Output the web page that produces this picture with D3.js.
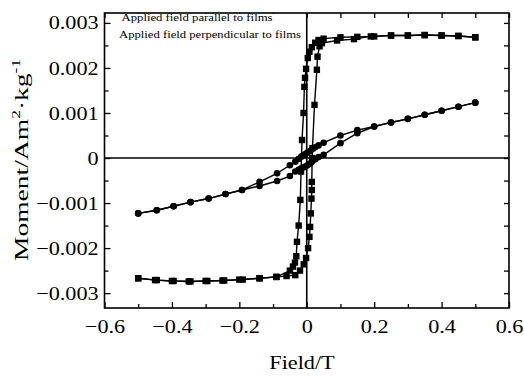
<!DOCTYPE html>
<html>
<head>
<meta charset="utf-8">
<script src="https://cdn.jsdelivr.net/npm/d3@7"></script>
<style>
    body { margin: 0; background: #fff; }
    svg { display: block; }
    text { font-family: "Liberation Serif", "Times New Roman", serif; fill: #000; }
    .axis path { display: none; }
    .axis line { stroke: #000; stroke-width: 1.3; }
</style>
</head>
<body>
<svg id="chart" width="524" height="376"></svg>
<script>

// parallel field (squares), descending then ascending branch
let parDownH = [0.5, 0.45, 0.4, 0.35, 0.3, 0.25, 0.2, 0.15, 0.1, 0.05, 0.035, 0.025, 0.015, 0.008, 0.003, -0.002, -0.005, -0.007, -0.0095, -0.014, -0.017, -0.019, -0.024, -0.029, -0.031, -0.035, -0.041, -0.05, -0.09, -0.14, -0.19, -0.245, -0.295, -0.345, -0.395, -0.445, -0.5];
let parDownM = [0.00268, 0.00271, 0.00272, 0.00273, 0.00272, 0.00272, 0.0027, 0.00269, 0.00268, 0.00265, 0.00262, 0.00256, 0.00246, 0.00236, 0.00222, 0.00198, 0.00178, 0.00158, 0.001, 0.0004, -0.0003, -0.00093, -0.0015, -0.00186, -0.00218, -0.00232, -0.00241, -0.0025, -0.00264, -0.00267, -0.0027, -0.00272, -0.00273, -0.00274, -0.00273, -0.00271, -0.00267];
let parUpH = [-0.5, -0.45, -0.4, -0.35, -0.3, -0.25, -0.2, -0.14, -0.09, -0.06, -0.034, -0.02, -0.009, -0.002, 0.004, 0.008, 0.01, 0.012, 0.014, 0.015, 0.015, 0.016, 0.017, 0.023, 0.03, 0.032, 0.038, 0.045, 0.09, 0.14, 0.19, 0.25, 0.3, 0.35, 0.4, 0.45, 0.5];
let parUpM = [-0.00267, -0.00271, -0.00273, -0.00274, -0.00273, -0.00272, -0.0027, -0.00267, -0.00264, -0.00262, -0.0026, -0.0025, -0.00236, -0.00222, -0.002, -0.00175, -0.00153, -0.00123, -0.0009, -0.00071, -0.00053, 0.0, 0.00022, 0.00118, 0.00196, 0.00225, 0.00248, 0.00255, 0.00261, 0.00264, 0.0027, 0.00272, 0.00272, 0.00273, 0.00272, 0.00271, 0.00268];

// perpendicular field (circles)
let perDownH = [0.5, 0.45, 0.4, 0.35, 0.3, 0.25, 0.2, 0.15, 0.1, 0.05, 0.035, 0.025, 0.015, 0.008, 0.002, -0.004, -0.01, -0.016, -0.024, -0.034, -0.05, -0.088, -0.14, -0.192, -0.241, -0.291, -0.345, -0.395, -0.445, -0.5];
let perDownM = [0.00123, 0.00114, 0.00105, 0.00096, 0.00087, 0.00079, 0.0007, 0.00062, 0.0005, 0.00034, 0.00028, 0.00024, 0.00019, 0.00015, 0.00012, 0.00009, 0.00006, 0.00003, -0.00002, -0.00008, -0.00016, -0.00034, -0.00053, -0.00071, -0.0008, -0.0009, -0.00098, -0.00107, -0.00116, -0.00123];
let perUpH = [-0.5, -0.445, -0.395, -0.345, -0.291, -0.241, -0.192, -0.14, -0.088, -0.05, -0.034, -0.024, -0.016, -0.01, -0.004, 0.002, 0.008, 0.015, 0.025, 0.035, 0.05, 0.1, 0.15, 0.2, 0.25, 0.3, 0.35, 0.4, 0.45, 0.5];
let perUpM = [-0.00123, -0.00116, -0.00107, -0.00098, -0.0009, -0.0008, -0.00071, -0.00062, -0.00051, -0.0004, -0.0003, -0.00026, -0.00023, -0.00021, -0.00019, -0.00016, -0.00013, -0.00009, -0.00003, 0.00002, 0.00007, 0.00033, 0.00055, 0.0007, 0.00079, 0.00087, 0.00096, 0.00105, 0.00114, 0.00123];

let xTicks = [-0.6, -0.4, -0.2, 0, 0.2, 0.4, 0.6];
let xMinor = [-0.5, -0.3, -0.1, 0.1, 0.3, 0.5];
let yTicks = [-0.003, -0.002, -0.001, 0, 0.001, 0.002, 0.003];
let yMinor = [-0.0025, -0.0015, -0.0005, 0.0005, 0.0015, 0.0025];
let yTickLabels = ["\u22120.003", "\u22120.002", "\u22120.001", "0", "0.001", "0.002", "0.003"];
let legendLabels = ["Applied field parallel to films", "Applied field perpendicular to films"];

let plotLeft = 104.5, plotRight = 509, plotTop = 13, plotBottom = 308;
let stretch = 1.17;

let svg = d3.select("#chart");

let xScale = d3.scaleLinear().domain([-0.6, 0.6]).range([plotLeft, plotRight]);
let yScale = d3.scaleLinear().domain([-0.00333, 0.00322]).range([plotBottom, plotTop]);

function zipPoints(h, m) {
    return h.map((v, i) => ({h: v, m: m[i]}));
}

// zero lines
svg.append("line")
    .attr("x1", plotLeft).attr("x2", plotRight)
    .attr("y1", yScale(0)).attr("y2", yScale(0))
    .attr("stroke", "#000").attr("stroke-width", 1.6);
svg.append("line")
    .attr("x1", xScale(0)).attr("x2", xScale(0))
    .attr("y1", plotTop).attr("y2", plotBottom)
    .attr("stroke", "#000").attr("stroke-width", 1.6);

// axes, ticks pointing inwards
let xAxis = svg.append("g").attr("class", "axis")
    .attr("transform", "translate(0," + plotBottom + ")")
    .call(d3.axisBottom(xScale).tickValues(xTicks).tickSizeInner(-6).tickSizeOuter(0).tickPadding(11.5)
        .tickFormat(d => d === 0 ? "0" : (d < 0 ? "\u2212" : "") + Math.abs(d).toFixed(1)));
xAxis.selectAll("text").attr("font-size", 19).attr("transform", "scale(" + stretch + ",1)");
svg.append("g").attr("class", "axis")
    .attr("transform", "translate(0," + plotBottom + ")")
    .call(d3.axisBottom(xScale).tickValues(xMinor).tickSizeInner(-4).tickSizeOuter(0).tickFormat(""));
svg.append("g").attr("class", "axis")
    .attr("transform", "translate(0," + plotTop + ")")
    .call(d3.axisTop(xScale).tickValues(xTicks.concat(xMinor)).tickSizeInner(-5).tickSizeOuter(0).tickFormat(""));

let yAxis = svg.append("g").attr("class", "axis")
    .attr("transform", "translate(" + plotLeft + ",0)")
    .call(d3.axisLeft(yScale).tickValues(yTicks).tickSizeInner(-6).tickSizeOuter(0).tickPadding(5)
        .tickFormat((d, i) => yTickLabels[i]));
yAxis.selectAll("text").attr("font-size", 19).attr("transform", "scale(" + stretch + ",1)");
svg.append("g").attr("class", "axis")
    .attr("transform", "translate(" + plotLeft + ",0)")
    .call(d3.axisLeft(yScale).tickValues(yMinor).tickSizeInner(-4).tickSizeOuter(0).tickFormat(""));
svg.append("g").attr("class", "axis")
    .attr("transform", "translate(" + plotRight + ",0)")
    .call(d3.axisRight(yScale).tickValues(yTicks.concat(yMinor)).tickSizeInner(-5).tickSizeOuter(0).tickFormat(""));

// frame
svg.append("rect")
    .attr("x", plotLeft).attr("y", plotTop)
    .attr("width", plotRight - plotLeft).attr("height", plotBottom - plotTop)
    .attr("fill", "none").attr("stroke", "#000").attr("stroke-width", 1.6);

// curves
let line = d3.line().x(d => xScale(d.h)).y(d => yScale(d.m));
let series = [
    {pts: zipPoints(parDownH, parDownM), shape: "square"},
    {pts: zipPoints(parUpH, parUpM), shape: "square"},
    {pts: zipPoints(perDownH, perDownM), shape: "circle"},
    {pts: zipPoints(perUpH, perUpM), shape: "circle"}
];

series.forEach(s => {
    svg.append("path")
        .datum(s.pts)
        .attr("d", line)
        .attr("fill", "none")
        .attr("stroke", "#000")
        .attr("stroke-width", 1.4);
});

series.forEach(s => {
    if (s.shape === "square") {
        svg.append("g").selectAll("rect")
            .data(s.pts)
            .enter()
            .append("rect")
            .attr("x", d => xScale(d.h) - 3.2)
            .attr("y", d => yScale(d.m) - 3.2)
            .attr("width", 6.4)
            .attr("height", 6.4)
            .attr("fill", "#000");
    }
    else {
        svg.append("g").selectAll("circle")
            .data(s.pts)
            .enter()
            .append("circle")
            .attr("cx", d => xScale(d.h))
            .attr("cy", d => yScale(d.m))
            .attr("r", 3.3)
            .attr("fill", "#000");
    }
});

// legend (text only, white box over the top ticks)
svg.append("rect")
    .attr("x", 112).attr("y", 14).attr("width", 190).attr("height", 28)
    .attr("fill", "#fff");
let legendX = [121.5, 119];
let legendY = [20.5, 37.5];
let legendW = [151, 182];
legendLabels.forEach((t, i) => {
    svg.append("text")
        .attr("x", legendX[i])
        .attr("y", legendY[i])
        .attr("font-size", 10.5)
        .attr("textLength", legendW[i])
        .attr("lengthAdjust", "spacingAndGlyphs")
        .text(t);
});

// axis titles
svg.append("text")
    .attr("x", 302)
    .attr("y", 369)
    .attr("font-size", 19)
    .attr("text-anchor", "middle")
    .attr("transform", "translate(302,0) scale(" + stretch + ",1) translate(-302,0)")
    .text("Field/T");

let yTitle = svg.append("text")
    .attr("font-size", 19)
    .attr("text-anchor", "middle")
    .attr("transform", "translate(28,160) rotate(-90) scale(1.45,1)");
yTitle.append("tspan").text("Moment/Am");
yTitle.append("tspan").attr("font-size", 12).attr("dy", -8).text("2");
yTitle.append("tspan").attr("dy", 8).text("\u00b7kg");
yTitle.append("tspan").attr("font-size", 12).attr("dy", -8).text("-1");

</script>
</body>
</html>
